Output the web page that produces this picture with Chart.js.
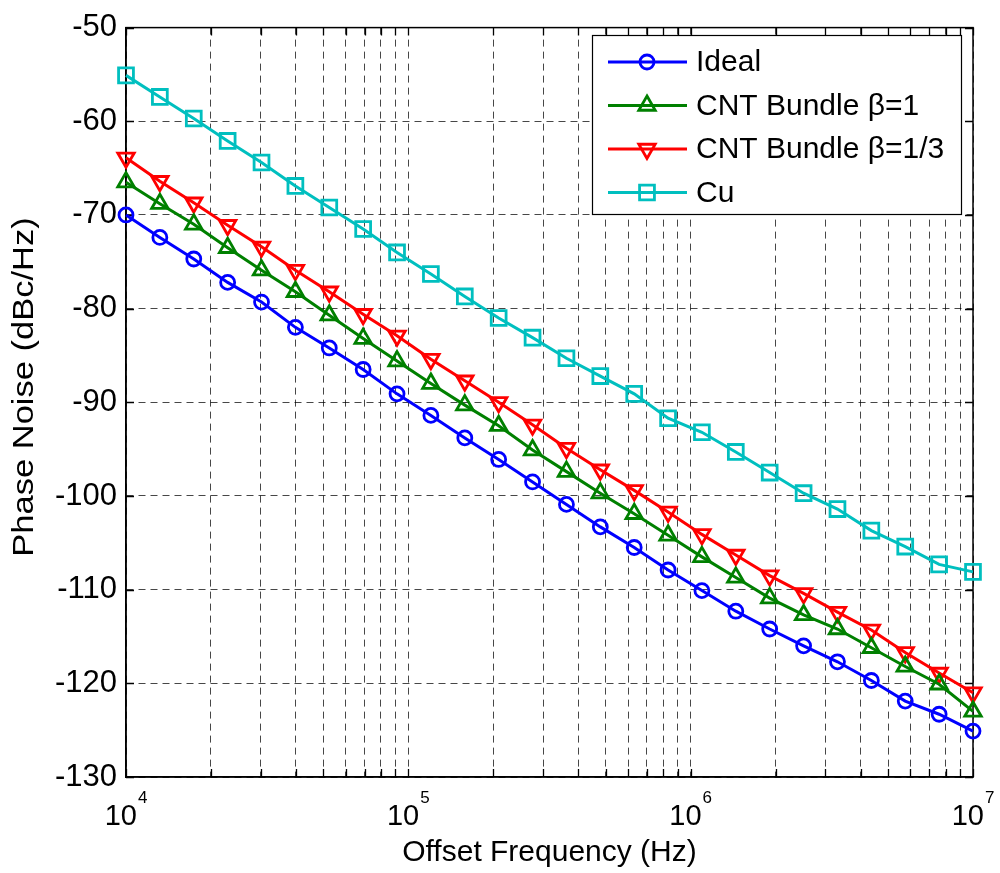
<!DOCTYPE html>
<html>
<head>
<meta charset="utf-8">
<title>Phase Noise</title>
<script src="https://cdn.jsdelivr.net/npm/chart.js@4/dist/chart.umd.min.js"></script>
<style>
  html, body { margin: 0; padding: 0; background: #fff; }
  #wrap { width: 1000px; height: 873px; }
</style>
</head>
<body>
<div id="wrap"><canvas id="pnChart" width="1000" height="873"></canvas></div>
<script>
// offset frequencies (Hz), 26 points log-spaced from 1e4 to 1e7
const freqs = [1.000e4, 1.318e4, 1.738e4, 2.291e4, 3.020e4, 3.981e4, 5.248e4, 6.918e4, 9.120e4,
               1.202e5, 1.585e5, 2.089e5, 2.754e5, 3.631e5, 4.786e5, 6.310e5, 8.318e5,
               1.096e6, 1.445e6, 1.905e6, 2.512e6, 3.311e6, 4.365e6, 5.754e6, 7.586e6, 1.000e7];

// phase noise (dBc/Hz)
const ideal  = [-70.0, -72.4, -74.7, -77.2, -79.3, -82.0, -84.2, -86.5, -89.1, -91.4, -93.8, -96.1, -98.5,
                -100.9, -103.3, -105.5, -107.9, -110.1, -112.3, -114.2, -116.0, -117.7, -119.7, -121.9, -123.3, -125.1];
const cntB1  = [-66.5, -68.8, -71.0, -73.5, -75.9, -78.2, -80.7, -83.2, -85.6, -88.0, -90.3, -92.5, -95.1,
                -97.4, -99.7, -101.9, -104.2, -106.5, -108.7, -110.9, -112.7, -114.2, -116.2, -118.2, -120.1, -123.0];
const cntB13 = [-63.9, -66.4, -68.7, -71.1, -73.4, -75.9, -78.2, -80.6, -82.9, -85.4, -87.7, -90.0, -92.4,
                -94.9, -97.2, -99.4, -101.7, -104.1, -106.3, -108.5, -110.4, -112.4, -114.3, -116.7, -118.9, -121.0];
const cu     = [-55.1, -57.4, -59.7, -62.1, -64.4, -66.9, -69.2, -71.5, -74.0, -76.3, -78.7, -81.0, -83.1,
                -85.3, -87.2, -89.1, -91.7, -93.2, -95.3, -97.5, -99.7, -101.4, -103.7, -105.4, -107.3, -108.1];

const seriesLabels = ['Ideal', 'CNT Bundle \u03b2=1', 'CNT Bundle \u03b2=1/3', 'Cu'];

// grid/tick positions on the log axis (1..9 per decade) and the labelled decades
const xTickValues = [1e4, 2e4, 3e4, 4e4, 5e4, 6e4, 7e4, 8e4, 9e4,
                     1e5, 2e5, 3e5, 4e5, 5e5, 6e5, 7e5, 8e5, 9e5,
                     1e6, 2e6, 3e6, 4e6, 5e6, 6e6, 7e6, 8e6, 9e6, 1e7];
const xDecades = [1e4, 1e5, 1e6, 1e7];
const xDecadeExps = ['4', '5', '6', '7'];
const yMin = -130, yMax = -50, yStep = 10;

const FONT = "'Liberation Sans', Arial, Helvetica, sans-serif";
const GRID_COLOR = 'rgba(0,0,0,0.72)';
const Y_TITLE = 'Phase Noise (dBc/Hz)';

function makeSeries(label, values, color, style, radius, rotation) {
    return {
        label: label,
        data: freqs.map(function (f, i) { return { x: f, y: values[i] }; }),
        borderColor: color,
        backgroundColor: color,
        borderWidth: 3,
        pointStyle: style,
        pointRadius: radius,
        pointHoverRadius: radius,
        pointRotation: rotation || 0,
        pointBorderColor: color,
        pointBackgroundColor: 'rgba(0,0,0,0)',
        pointBorderWidth: 2.8,
        tension: 0,
        clip: false
    };
}

function drawMarker(ctx, ds, x, y) {
    ctx.save();
    ctx.strokeStyle = ds.borderColor;
    ctx.fillStyle = 'rgba(0,0,0,0)';
    ctx.lineWidth = ds.pointBorderWidth;
    if (Chart.helpers && Chart.helpers.drawPoint) {
        Chart.helpers.drawPoint(ctx, {
            pointStyle: ds.pointStyle, rotation: ds.pointRotation,
            radius: ds.pointRadius, borderWidth: ds.pointBorderWidth
        }, x, y);
    } else {
        ctx.beginPath();
        ctx.arc(x, y, ds.pointRadius, 0, Math.PI * 2);
        ctx.stroke();
    }
    ctx.restore();
}

// box, inner tick marks, decade labels, y title and legend in the MATLAB style
const matlabAxes = {
    id: 'matlabAxes',
    beforeDatasetsDraw: function (chart) {
        const ctx = chart.ctx;
        const a = chart.chartArea;
        const xs = chart.scales.x, ys = chart.scales.y;
        const tl = 8;
        ctx.save();
        ctx.strokeStyle = '#000';
        ctx.lineWidth = 1.3;
        ctx.beginPath();
        xTickValues.forEach(function (v) {
            const px = Math.round(xs.getPixelForValue(v)) + 0.5;
            ctx.moveTo(px, a.bottom); ctx.lineTo(px, a.bottom - tl);
            ctx.moveTo(px, a.top); ctx.lineTo(px, a.top + tl);
        });
        for (let v = yMin; v <= yMax; v += yStep) {
            const py = Math.round(ys.getPixelForValue(v)) + 0.5;
            ctx.moveTo(a.left, py); ctx.lineTo(a.left + tl, py);
            ctx.moveTo(a.right, py); ctx.lineTo(a.right - tl, py);
        }
        ctx.stroke();
        ctx.lineWidth = 1.5;
        ctx.strokeRect(a.left, a.top, a.right - a.left, a.bottom - a.top);
        ctx.restore();
    },
    afterDraw: function (chart) {
        const ctx = chart.ctx;
        const xs = chart.scales.x;
        const a = chart.chartArea;
        ctx.save();
        ctx.fillStyle = '#000';
        ctx.textBaseline = 'alphabetic';
        ctx.textAlign = 'left';
        xDecades.forEach(function (v, i) {
            const px = xs.getPixelForValue(v);
            ctx.font = '29px ' + FONT;
            const wBase = ctx.measureText('10').width;
            ctx.font = '17px ' + FONT;
            const wExp = ctx.measureText(xDecadeExps[i]).width;
            const x0 = px - (wBase + wExp + 1) / 2;
            ctx.font = '29px ' + FONT;
            ctx.fillText('10', x0, a.bottom + 48);
            ctx.font = '17px ' + FONT;
            ctx.fillText(xDecadeExps[i], x0 + wBase + 1, a.bottom + 26);
        });

        // y axis title, slightly stretched along its length like the original
        ctx.save();
        ctx.translate(33, 387);
        ctx.rotate(-Math.PI / 2);
        ctx.scale(1.15, 1);
        ctx.font = '30px ' + FONT;
        ctx.textAlign = 'center';
        ctx.textBaseline = 'alphabetic';
        ctx.fillText(Y_TITLE, 0, 0);
        ctx.restore();

        // legend
        const box = { left: 592, top: 35, width: 369, height: 179 };
        ctx.fillStyle = '#fff';
        ctx.fillRect(box.left, box.top, box.width, box.height);
        ctx.strokeStyle = '#000';
        ctx.lineWidth = 1.2;
        ctx.strokeRect(box.left + 0.5, box.top + 0.5, box.width, box.height);
        chart.data.datasets.forEach(function (ds, i) {
            const y = box.top + 27 + i * 43.5;
            ctx.strokeStyle = ds.borderColor;
            ctx.lineWidth = ds.borderWidth;
            ctx.beginPath();
            ctx.moveTo(box.left + 16, y);
            ctx.lineTo(box.left + 95, y);
            ctx.stroke();
            drawMarker(ctx, ds, box.left + 55, y);
            ctx.fillStyle = '#000';
            ctx.font = '30px ' + FONT;
            ctx.textAlign = 'left';
            ctx.textBaseline = 'middle';
            ctx.fillText(ds.label, box.left + 104, y + 1);
        });
        ctx.restore();
    }
};

document.addEventListener('DOMContentLoaded', function () {
    const ctx = document.getElementById('pnChart').getContext('2d');

    new Chart(ctx, {
        type: 'line',
        data: {
            datasets: [
                makeSeries(seriesLabels[0], ideal, '#0000ff', 'circle', 7),
                makeSeries(seriesLabels[1], cntB1, '#008000', 'triangle', 9.5, 0),
                makeSeries(seriesLabels[2], cntB13, '#ff0000', 'triangle', 9.5, 180),
                makeSeries(seriesLabels[3], cu, '#00bfbf', 'rect', 10.5)
            ]
        },
        options: {
            responsive: false,
            animation: false,
            devicePixelRatio: 1,
            layout: { padding: { top: 22, right: 27, left: 0, bottom: 0 } },
            plugins: {
                legend: { display: false },
                tooltip: { enabled: false }
            },
            scales: {
                x: {
                    type: 'logarithmic',
                    min: 1e4,
                    max: 1e7,
                    afterBuildTicks: function (s) {
                        s.ticks = xTickValues.map(function (v) { return { value: v }; });
                    },
                    afterFit: function (s) { s.height = 96; },
                    ticks: { display: false },
                    grid: { color: GRID_COLOR, lineWidth: 1, drawTicks: false },
                    border: { display: true, color: '#000', width: 1.5, dash: [7, 5] },
                    title: {
                        display: true,
                        text: 'Offset Frequency (Hz)',
                        color: '#000',
                        font: { family: FONT, size: 30 },
                        padding: { top: 0, bottom: 2 }
                    }
                },
                y: {
                    type: 'linear',
                    min: yMin,
                    max: yMax,
                    afterFit: function (s) { s.width = 126; },
                    ticks: {
                        stepSize: yStep,
                        color: '#000',
                        padding: 9,
                        font: { family: FONT, size: 31 }
                    },
                    grid: { color: GRID_COLOR, lineWidth: 1, drawTicks: false },
                    border: { display: true, color: '#000', width: 1.5, dash: [7, 5] },
                    title: { display: false }
                }
            }
        },
        plugins: [matlabAxes]
    });
});
</script>
</body>
</html>
